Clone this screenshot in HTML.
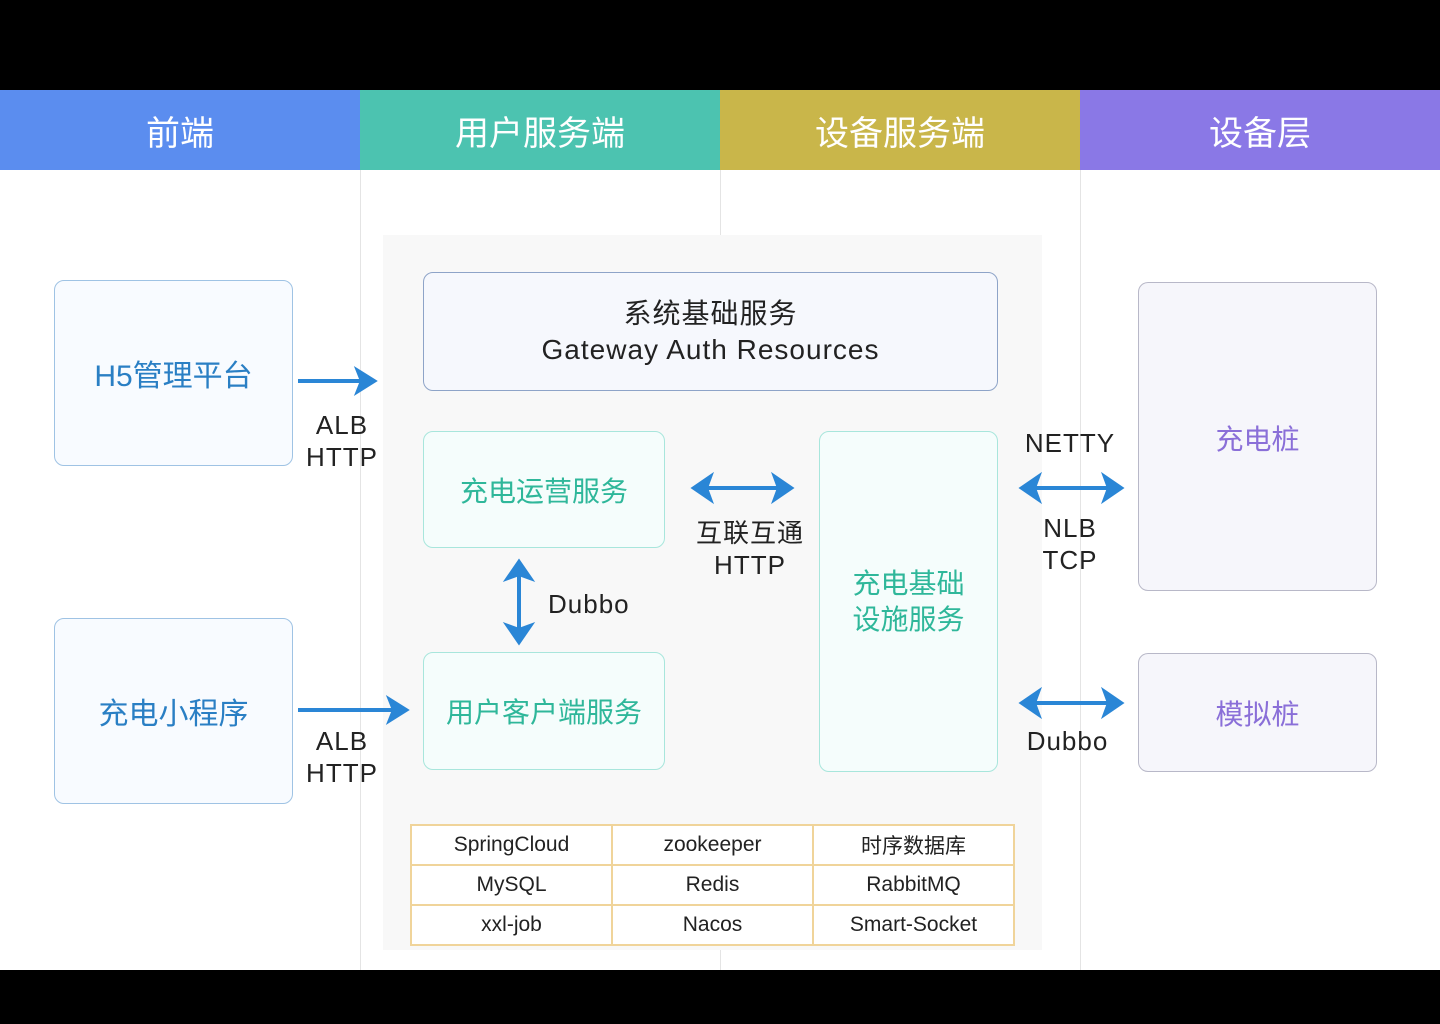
<!DOCTYPE html>
<html><head><meta charset="utf-8"><style>
*{margin:0;padding:0;box-sizing:border-box}
body{width:1440px;height:1024px;background:#000;position:relative;overflow:hidden;font-family:"Liberation Sans","Noto Sans CJK SC",sans-serif}
.a{position:absolute}
.hd{position:absolute;top:90px;height:80px;color:#fff;font-size:34px;display:flex;align-items:center;justify-content:center}
.box{position:absolute;border-radius:10px;display:flex;align-items:center;justify-content:center;text-align:center}
.lbl{position:absolute;font-size:26px;color:#222;text-align:center;line-height:32px;letter-spacing:1px}
table{border-collapse:collapse}
td{border:2px solid #f0d49a;width:201px;height:40px;text-align:center;font-size:21px;color:#222}
</style></head><body>
<div class="a" style="left:0;top:90px;width:1440px;height:880px;background:#fff"></div>
<div class="hd" style="left:0;width:360px;background:#5b8def">前端</div>
<div class="hd" style="left:360px;width:360px;background:#4cc3b0">用户服务端</div>
<div class="hd" style="left:720px;width:360px;background:#c9b64a">设备服务端</div>
<div class="hd" style="left:1080px;width:360px;background:#8a78e6">设备层</div>
<div class="a" style="left:360px;top:170px;width:1px;height:800px;background:#e4e4e4"></div>
<div class="a" style="left:720px;top:170px;width:1px;height:800px;background:#e4e4e4"></div>
<div class="a" style="left:1080px;top:170px;width:1px;height:800px;background:#e4e4e4"></div>
<div class="a" style="left:383px;top:235px;width:659px;height:715px;background:#f8f8f8"></div>

<div class="box" style="left:54px;top:280px;width:239px;height:186px;border:1.5px solid #9fc3e4;background:#f8fbff;color:#2a7fc4;font-size:30px">H5管理平台</div>
<div class="box" style="left:54px;top:618px;width:239px;height:186px;border:1.5px solid #9fc3e4;background:#f8fbff;color:#2a7fc4;font-size:30px">充电小程序</div>

<div class="box" style="left:423px;top:272px;width:575px;height:119px;border:1.5px solid #8ea4c8;background:#f6f8fd;color:#222;font-size:28px;line-height:36px;letter-spacing:1px">系统基础服务<br>Gateway Auth Resources</div>
<div class="box" style="left:423px;top:431px;width:242px;height:117px;border:1.5px solid #a8e6dc;background:#f5fdfc;color:#2fb79a;font-size:28px">充电运营服务</div>
<div class="box" style="left:423px;top:652px;width:242px;height:118px;border:1.5px solid #a8e6dc;background:#f5fdfc;color:#2fb79a;font-size:28px">用户客户端服务</div>
<div class="box" style="left:819px;top:431px;width:179px;height:341px;border:1.5px solid #a8e6dc;background:#f5fdfc;color:#2fb79a;font-size:28px;line-height:36px">充电基础<br>设施服务</div>

<div class="box" style="left:1138px;top:282px;width:239px;height:309px;border:1.5px solid #b8b8c8;background:#f6f6fb;color:#8a6fd8;font-size:28px;align-items:flex-start;padding-top:135px">充电桩</div>
<div class="box" style="left:1138px;top:653px;width:239px;height:119px;border:1.5px solid #b8b8c8;background:#f6f6fb;color:#8a6fd8;font-size:28px">模拟桩</div>

<svg class="a" style="left:0;top:0" width="1440" height="1024">
<g stroke="#2a86d6" stroke-width="4" fill="#2a86d6">
<line x1="298" y1="381" x2="364" y2="381"/><path d="M374,381 L358,371 L362,381 L358,391Z"/>
<line x1="298" y1="710" x2="396" y2="710"/><path d="M406,710 L390,700 L394,710 L390,720Z"/>
<line x1="704" y1="488" x2="780" y2="488"/><path d="M694,488 L710,477 L706,488 L710,499Z"/><path d="M791,488 L775,477 L779,488 L775,499Z"/>
<line x1="1032" y1="488" x2="1110" y2="488"/><path d="M1022,488 L1038,477 L1034,488 L1038,499Z"/><path d="M1121,488 L1105,477 L1109,488 L1105,499Z"/>
<line x1="1032" y1="703" x2="1110" y2="703"/><path d="M1022,703 L1038,692 L1034,703 L1038,714Z"/><path d="M1121,703 L1105,692 L1109,703 L1105,714Z"/>
<line x1="519" y1="572" x2="519" y2="632"/><path d="M519,562 L508,578 L519,574 L530,578Z"/><path d="M519,642 L508,626 L519,630 L530,626Z"/>
</g></svg>

<div class="lbl" style="left:300px;top:409px;width:84px">ALB<br>HTTP</div>
<div class="lbl" style="left:300px;top:725px;width:84px">ALB<br>HTTP</div>
<div class="lbl" style="left:690px;top:517px;width:120px">互联互通<br>HTTP</div>
<div class="lbl" style="left:548px;top:588px;width:95px;text-align:left">Dubbo</div>
<div class="lbl" style="left:1020px;top:427px;width:100px">NETTY</div>
<div class="lbl" style="left:1020px;top:512px;width:100px">NLB<br>TCP</div>
<div class="lbl" style="left:1015px;top:725px;width:105px">Dubbo</div>

<table class="a" style="left:410px;top:824px;background:#fff">
<tr><td>SpringCloud</td><td>zookeeper</td><td>时序数据库</td></tr>
<tr><td>MySQL</td><td>Redis</td><td>RabbitMQ</td></tr>
<tr><td>xxl-job</td><td>Nacos</td><td>Smart-Socket</td></tr>
</table>
</body></html>
